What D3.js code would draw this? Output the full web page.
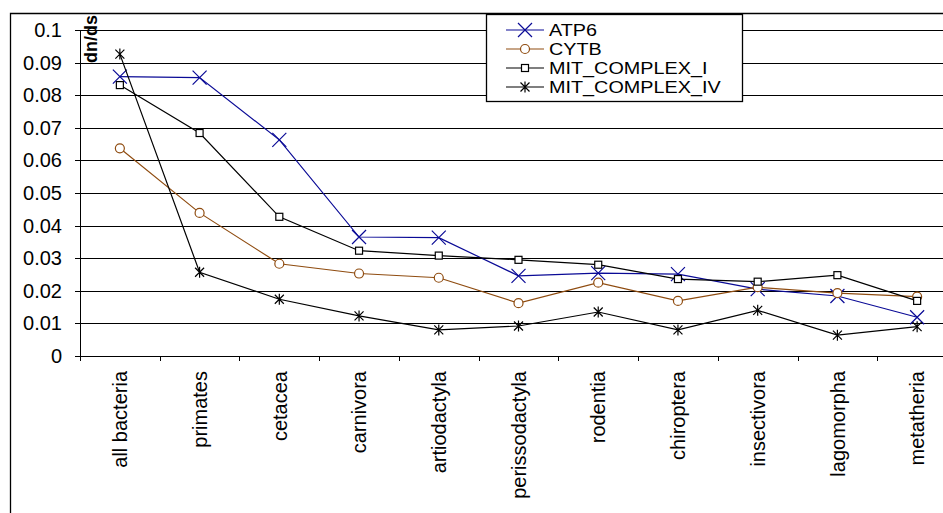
<!DOCTYPE html>
<html>
<head>
<meta charset="utf-8">
<script src="https://cdn.jsdelivr.net/npm/d3@7"></script>
<style>
  body { margin: 0; background: #fff; }
  svg { display: block; font-family: "Liberation Sans", Arial, sans-serif; }
</style>
</head>
<body>
<div class="chart"></div>
<script>
const categories = ["all bacteria", "primates", "cetacea", "carnivora", "artiodactyla", "perissodactyla",
  "rodentia", "chiroptera", "insectivora", "lagomorpha", "metatheria"];

const atp6 = [0.0857, 0.0854, 0.0663, 0.0365, 0.0363, 0.0246, 0.0254, 0.0251, 0.0205, 0.0184, 0.0119];
const cytb = [0.0637, 0.0439, 0.0283, 0.0253, 0.0240, 0.0162, 0.0225, 0.0169, 0.0211, 0.0193, 0.0182];
const mitComplexI = [0.0831, 0.0684, 0.0427, 0.0323, 0.0308, 0.0295, 0.0280, 0.0236, 0.0228, 0.0248, 0.0169];
const mitComplexIV = [0.0926, 0.0257, 0.0174, 0.0123, 0.0080, 0.0092, 0.0135, 0.0080, 0.0140, 0.0064, 0.0090];

const seriesNames = ["ATP6", "CYTB", "MIT_COMPLEX_I", "MIT_COMPLEX_IV"];
const yTickValues = [0, 0.01, 0.02, 0.03, 0.04, 0.05, 0.06, 0.07, 0.08, 0.09, 0.1];
const yTickLabels = ["0", "0.01", "0.02", "0.03", "0.04", "0.05", "0.06", "0.07", "0.08", "0.09", "0.1"];
const yTitle = "dn/ds";

const W = 943, H = 513;
const plotLeft = 80, plotRight = 957, plotTop = 30, plotBottom = 356;
const fontSize = 20;

const svg = d3.select(".chart").append("svg")
  .attr("width", W).attr("height", H);

// outer chart frame (cut by the window)
svg.append("path")
  .attr("d", `M10.5,${H} V13.5 H${W}`)
  .attr("fill", "none").attr("stroke", "#000").attr("stroke-width", 1.3);

const x = d3.scaleBand().domain(categories).range([plotLeft, plotRight]);
const xEdges = d3.scaleLinear().domain([0, categories.length]).range([plotLeft, plotRight]);
const y = d3.scaleLinear().domain([0, 0.1]).range([plotBottom, plotTop]);

// gridlines
svg.append("g")
  .attr("transform", `translate(${plotLeft},0)`)
  .call(d3.axisLeft(y).tickValues(yTickValues.slice(1)).tickSize(-(plotRight - plotLeft)).tickFormat(""))
  .call(g => g.select(".domain").remove())
  .call(g => g.selectAll("line").attr("stroke", "#000").attr("shape-rendering", "crispEdges"));

// y axis
svg.append("g")
  .attr("transform", `translate(${plotLeft},0)`)
  .call(d3.axisLeft(y).tickValues(yTickValues).tickSize(5).tickPadding(13)
    .tickFormat((d, i) => yTickLabels[i]))
  .call(g => g.select(".domain").attr("stroke", "#000").attr("shape-rendering", "crispEdges"))
  .call(g => g.selectAll("line").attr("shape-rendering", "crispEdges"))
  .call(g => g.selectAll("text").attr("font-size", fontSize).attr("font-family", "Liberation Sans, Arial").attr("fill", "#000"));

// x axis tick marks between categories
svg.append("g")
  .attr("transform", `translate(0,${plotBottom})`)
  .call(d3.axisBottom(xEdges).tickValues(d3.range(categories.length + 1)).tickSize(5).tickFormat(""))
  .call(g => g.selectAll("line,path").attr("stroke", "#000").attr("shape-rendering", "crispEdges"));

// x category labels, rotated
svg.append("g")
  .selectAll("text")
  .data(categories)
  .join("text")
  .attr("transform", d => `translate(${x(d) + x.bandwidth() / 2},${plotBottom + 15}) rotate(-90)`)
  .attr("dy", "0.36em")
  .attr("text-anchor", "end")
  .attr("font-size", fontSize)
  .text(d => d);

// y title
svg.append("text")
  .attr("transform", `translate(97,39) rotate(-90)`)
  .attr("text-anchor", "middle")
  .attr("font-size", 18)
  .attr("font-weight", "bold")
  .text(yTitle);

// markers
const markerX = (g, s) => g.append("path").attr("d", `M${-s},${-s}L${s},${s}M${-s},${s}L${s},${-s}`);
const markerCircle = (g, s) => g.append("circle").attr("r", s).attr("fill", "#fff");
const markerSquare = (g, s) => g.append("rect").attr("x", -s).attr("y", -s).attr("width", 2 * s).attr("height", 2 * s).attr("fill", "#fff");
const markerStar = (g, s) => g.append("path").attr("d", `M${-s},${-s}L${s},${s}M${-s},${s}L${s},${-s}M0,${-s - 1}V${s + 1}`);

const series = [
  { name: seriesNames[0], values: atp6, color: "#0a0a96", marker: markerX, size: 7, width: 1.2 },
  { name: seriesNames[1], values: cytb, color: "#8f4c10", marker: markerCircle, size: 4.5, width: 1.2 },
  { name: seriesNames[2], values: mitComplexI, color: "#000", marker: markerSquare, size: 3.5, width: 1.2 },
  { name: seriesNames[3], values: mitComplexIV, color: "#000", marker: markerStar, size: 4.5, width: 1.2 }
];

const line = d3.line()
  .x((d, i) => x(categories[i]) + x.bandwidth() / 2)
  .y(d => y(d));

series.forEach(s => {
  const g = svg.append("g").attr("class", "series");
  g.append("path")
    .datum(s.values)
    .attr("d", line)
    .attr("fill", "none")
    .attr("stroke", s.color)
    .attr("stroke-width", s.width);
  s.values.forEach((v, i) => {
    const m = g.append("g")
      .attr("transform", `translate(${x(categories[i]) + x.bandwidth() / 2},${y(v)})`)
      .attr("stroke", s.color)
      .attr("stroke-width", 1.2)
      .attr("fill", "none");
    s.marker(m, s.size);
  });
});

// legend
const legend = svg.append("g").attr("transform", "translate(486,14)");
legend.append("rect")
  .attr("x", 0.5).attr("y", 0.5)
  .attr("width", 256).attr("height", 87)
  .attr("fill", "#fff").attr("stroke", "#000").attr("stroke-width", 1.3);

series.forEach((s, i) => {
  const item = legend.append("g").attr("transform", `translate(0,${16 + i * 19})`);
  item.append("line")
    .attr("x1", 20).attr("x2", 58)
    .attr("stroke", s.color).attr("stroke-width", 1.2);
  const m = item.append("g")
    .attr("transform", "translate(39,0)")
    .attr("stroke", s.color).attr("stroke-width", 1.2).attr("fill", "none");
  s.marker(m, s.size);
  // legend text is drawn a bit wide, like the original
  item.append("text")
    .attr("transform", "translate(63,0) scale(1.2,1)")
    .attr("dy", "0.36em")
    .attr("font-size", 16.5)
    .text(s.name);
});
</script>
</body>
</html>
